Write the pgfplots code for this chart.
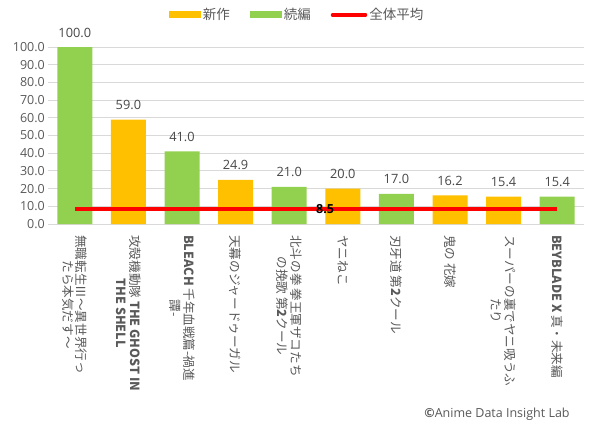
\documentclass[border=0pt]{standalone}
\usepackage{fontspec}
\setmainfont{Open Sans}
\newfontfamily\jp{Noto Sans CJK JP}
\usepackage{pgfplots}
\pgfplotsset{compat=1.18}
\definecolor{cnew}{HTML}{FFC000}
\definecolor{cseq}{HTML}{92D050}
\definecolor{cavg}{HTML}{FF0000}
\definecolor{cgrid}{HTML}{D9D9D9}
\definecolor{ctext}{HTML}{595959}
\begin{document}
\begin{tikzpicture}
\path[use as bounding box] (-48bp,-199bp) rectangle (546bp,224bp);
\begin{axis}[
  at={(0,0)}, anchor=south west,
  scale only axis, width=536bp, height=177bp,
  xmin=-0.5, xmax=9.5, ymin=0, ymax=100,
  enlargelimits=false, clip=false,
  axis line style={draw=none},
  ymajorgrids, grid style={cgrid, line width=1bp},
  major tick length=0pt,
  ytick={0,10,...,100},
  /pgf/number format/fixed, /pgf/number format/fixed zerofill, /pgf/number format/precision=1,
  /pgf/number format/assume math mode=true,
  yticklabel style={font=\fontsize{12.5bp}{14bp}\selectfont, text=ctext, inner sep=0pt, xshift=-3bp},
  xtick={0,...,9},
  xticklabels={
    {無職転生Ⅲ～異世界行っ\\たら本気だす～},
    {攻殻機動隊 \textbf{THE GHOST IN}\\\textbf{THE SHELL}},
    {\textbf{BLEACH} 千年血戦篇-禍進\\譚-},
    {天幕のジャードゥーガル},
    {北斗の拳 拳王軍ザコたち\\の挽歌 第\textbf{2}クール},
    {ヤニねこ},
    {刃牙道 第\textbf{2}クール},
    {鬼の 花嫁},
    {スーパーの裏でヤニ吸うふ\\たり},
    {\textbf{BEYBLADE X} 真・未来編}},
  xticklabel style={font=\jp\fontsize{12.6bp}{13.7bp}\selectfont, text=ctext, rotate=-90, anchor=west, align=center, inner sep=0pt},
  xticklabel shift=11bp,
  ybar, bar width=35bp, bar shift=0pt,
  legend columns=3,
  legend style={at={(0.4646,1.181)}, anchor=center, draw=none, fill=none,
    font=\jp\fontsize{13.5bp}{15bp}\selectfont, text=ctext,
    /tikz/every even column/.append style={column sep=18bp},
    /tikz/every odd column/.append style={column sep=0bp}},
  legend cell align=left,
]
\addplot[fill=cnew, draw=none, area legend,
  nodes near coords,
  nodes near coords style={font=\fontsize{12.8bp}{14bp}\selectfont, text=ctext!80!black, anchor=base, inner sep=0pt, yshift=10bp},
  legend image code/.code={\fill[cnew] (0bp,-3.5bp) rectangle (32bp,3.5bp);}]
  coordinates {(1,59.0) (3,24.9) (5,20.0) (7,16.2) (8,15.4)};
\addlegendentry{新作}
\addplot[fill=cseq, draw=none, area legend,
  nodes near coords,
  nodes near coords style={font=\fontsize{12.8bp}{14bp}\selectfont, text=ctext!80!black, anchor=base, inner sep=0pt, yshift=10bp},
  legend image code/.code={\fill[cseq] (0bp,-3.5bp) rectangle (32bp,3.5bp);}]
  coordinates {(0,100.0) (2,41.0) (4,21.0) (6,17.0) (9,15.4)};
\addlegendentry{続編}
\addplot[sharp plot, cavg, line width=3.5bp,
  legend image code/.code={\draw[cavg, line width=3.5bp, line cap=round] (0bp,0bp) -- (33bp,0bp);}]
  coordinates {(0,8.5) (9,8.5)};
\addlegendentry{全体平均}
\addplot[draw=none, mark=none, forget plot, nodes near coords={\textbf{8.5}},
  nodes near coords style={font=\fontsize{12.5bp}{14bp}\selectfont, text=black, anchor=center, inner sep=0pt}]
  coordinates {(4.67,8.5)};
\end{axis}
\node[font=\fontsize{12.5bp}{14bp}\selectfont, text=ctext, anchor=center] at (449bp,-190bp) {\textbf{©}Anime Data Insight Lab};
\end{tikzpicture}
\end{document}
